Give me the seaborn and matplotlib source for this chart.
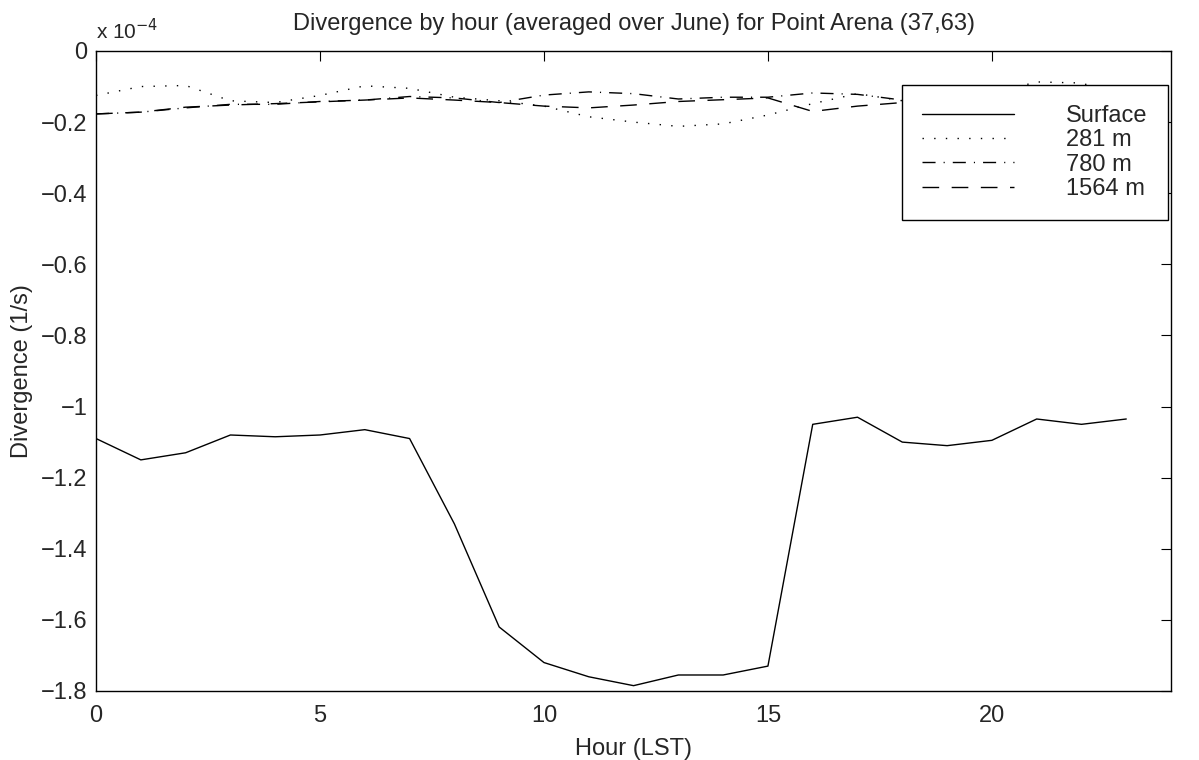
import numpy as np
import pandas as pd
import matplotlib
matplotlib.use("Agg")
import matplotlib.pyplot as plt
import seaborn as sns

# ------------------- Data (units of 1e-4 1/s) -------------------
hours = list(range(24))
surface = [-1.09, -1.15, -1.13, -1.08, -1.085, -1.08, -1.065, -1.09, -1.33, -1.62,
           -1.72, -1.76, -1.785, -1.755, -1.755, -1.73, -1.05, -1.03, -1.10, -1.11,
           -1.095, -1.035, -1.05, -1.035]
m281 = [-0.125, -0.10, -0.097, -0.14, -0.145, -0.125, -0.098, -0.105, -0.13, -0.14,
        -0.155, -0.185, -0.2, -0.212, -0.205, -0.18, -0.148, -0.12, -0.14, -0.135,
        -0.12, -0.087, -0.09, -0.13]
m780 = [-0.177, -0.172, -0.16, -0.15, -0.15, -0.142, -0.138, -0.128, -0.132, -0.145,
        -0.124, -0.115, -0.12, -0.135, -0.13, -0.13, -0.118, -0.122, -0.138, -0.142,
        -0.13, -0.13, -0.12, -0.13]
m1564 = [-0.177, -0.172, -0.158, -0.152, -0.148, -0.143, -0.138, -0.132, -0.138, -0.145,
         -0.155, -0.16, -0.152, -0.142, -0.137, -0.132, -0.17, -0.155, -0.145, -0.132,
         -0.14, -0.132, -0.14, -0.14]
labels = ["Surface", "281 m", "780 m", "1564 m"]

df = pd.DataFrame({
    "Hour": hours * 4,
    "Div": surface + m281 + m780 + m1564,
    "Level": sum([[lab] * 24 for lab in labels], []),
})

# ------------------- Plot -------------------
sns.set_style("white")
plt.rcParams['font.family'] = ['Liberation Sans', 'DejaVu Sans']
FS = 17

fig = plt.figure(figsize=(11.99, 7.6), dpi=100)
ax = fig.add_axes([0.0801, 0.0908, 0.8966, 0.8421])

dashes = {"Surface": "", "281 m": (1, 7.4), "780 m": (9.4, 5.8, 0.8, 5.8), "1564 m": (12, 9)}
sns.lineplot(data=df, x="Hour", y="Div", hue="Level", style="Level",
             palette=["black"] * 4, dashes=dashes, linewidth=1, ax=ax)

ax.set_xlim(0, 24)
ax.set_ylim(-1.8, 0)
ax.set_xticks([0, 5, 10, 15, 20])
ax.set_yticks(np.arange(-1.8, 0.01, 0.2))
ax.yaxis.set_major_formatter(matplotlib.ticker.FuncFormatter(
    lambda v, p: ("%g" % round(v, 1)).replace("-", "\u2212") if abs(v) > 1e-9 else "0"))
ax.tick_params(direction="in", top=True, right=True, length=7, labelsize=FS, color="black")
ax.tick_params(axis="x", pad=10)
ax.tick_params(axis="y", pad=6)
for s in ax.spines.values():
    s.set_color("black")
    s.set_linewidth(1)

ax.set_xlabel("Hour (LST)", fontsize=FS, labelpad=8)
ax.set_ylabel("Divergence (1/s)", fontsize=FS, labelpad=6)
ax.set_title("Divergence by hour (averaged over June) for Point Arena (37,63)", fontsize=FS, pad=15)
ax.text(0.0, 1.012, "x 10$^{\u22124}$", transform=ax.transAxes, fontsize=15, va="bottom", ha="left")

leg = ax.legend(title=None, loc="upper right", bbox_to_anchor=(0.997, 0.947), borderaxespad=0,
                fontsize=FS, fancybox=False, framealpha=1, edgecolor="black", handlelength=3.9,
                handletextpad=2.2, borderpad=0.85, labelspacing=0.1)
leg.get_frame().set_linewidth(1)

fig.savefig("out.png", dpi=100)
